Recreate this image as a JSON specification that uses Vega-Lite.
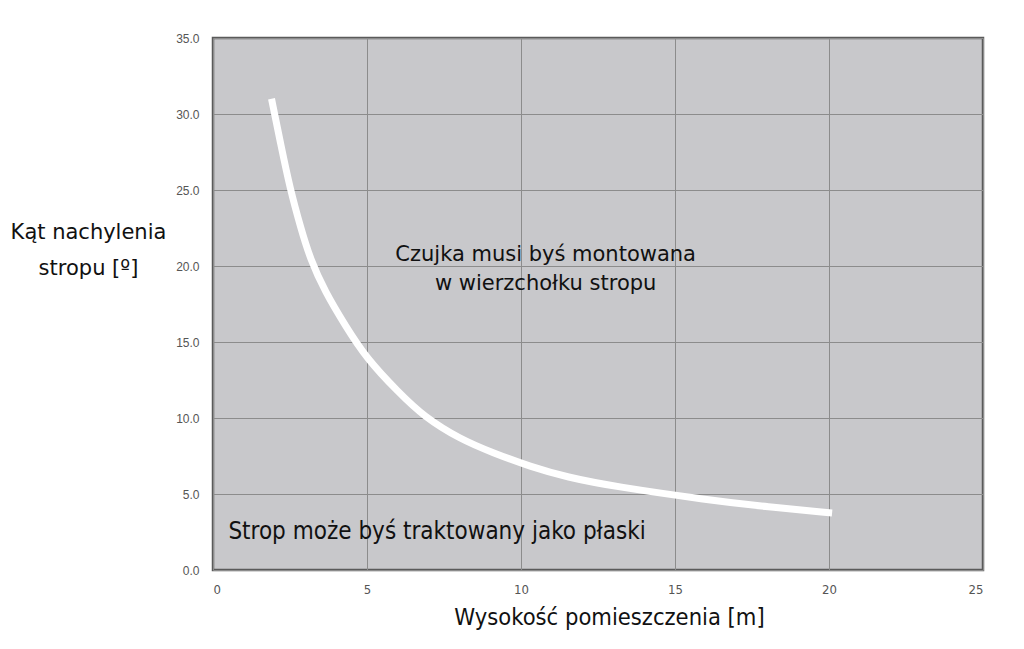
{
  "$schema": "https://vega.github.io/schema/vega-lite/v6.json",
  "width": 770,
  "height": 532,
  "autosize": {"type": "none"},
  "padding": {"left": 213, "top": 38, "right": 41, "bottom": 79},
  "background": "white",
  "datasets": {
    "curve": [
      {"h": 1.9, "angle": 31.0},
      {"h": 2.2, "angle": 28.0},
      {"h": 2.5, "angle": 25.1},
      {"h": 2.85, "angle": 22.5},
      {"h": 3.15, "angle": 20.5},
      {"h": 3.64, "angle": 18.3},
      {"h": 4.29, "angle": 16.1},
      {"h": 4.99, "angle": 13.9},
      {"h": 6.02, "angle": 11.7},
      {"h": 6.84, "angle": 10.1},
      {"h": 8.03, "angle": 8.6},
      {"h": 9.1, "angle": 7.7},
      {"h": 10.3, "angle": 6.8},
      {"h": 11.5, "angle": 6.1},
      {"h": 13.0, "angle": 5.5},
      {"h": 16.1, "angle": 4.6},
      {"h": 18.0, "angle": 4.15},
      {"h": 20.1, "angle": 3.75}
    ],
    "upper": [
      {"h": 10.8, "angle": 20.7, "label": ["Czujka musi byś montowana", "w wierzchołku stropu"]}
    ],
    "lower": [
      {"h": 0.5, "angle": 2.5, "label": "Strop może byś traktowany jako płaski"}
    ]
  },
  "encoding": {
    "x": {
      "field": "h",
      "type": "quantitative",
      "scale": {"domain": [0, 25], "nice": false},
      "axis": {
        "values": [0, 5, 10, 15, 20, 25],
        "title": "Wysokość pomieszczenia [m]",
        "titleFont": "DejaVu Sans Condensed",
        "titleFontSize": 23.5,
        "titleFontWeight": "normal",
        "titleColor": "#111",
        "titleX": 396,
        "titleY": 47,
        "titleBaseline": "middle",
        "titleAlign": "center",
        "labelFont": "DejaVu Sans Condensed",
        "labelFontSize": 13,
        "labelColor": "#555",
        "labelPadding": 13
      }
    },
    "y": {
      "field": "angle",
      "type": "quantitative",
      "scale": {"domain": [0, 35], "nice": false},
      "axis": {
        "values": [0, 5, 10, 15, 20, 25, 30, 35],
        "format": ".1f",
        "title": ["Kąt nachylenia", "stropu [º]"],
        "titleFont": "DejaVu Sans",
        "titleFontSize": 21,
        "titleFontWeight": "normal",
        "titleColor": "#111",
        "titleAngle": 0,
        "titleAlign": "center",
        "titleBaseline": "middle",
        "titleLineHeight": 36,
        "titleX": -125,
        "titleY": 194,
        "labelFont": "Liberation Sans",
        "labelFontSize": 12,
        "labelColor": "#555",
        "labelPadding": 14
      }
    }
  },
  "layer": [
    {
      "data": {"name": "curve"},
      "mark": {"type": "line", "color": "white", "strokeWidth": 7, "interpolate": "basis", "strokeCap": "butt"}
    },
    {
      "data": {"name": "upper"},
      "mark": {"type": "text", "font": "DejaVu Sans", "fontSize": 21, "align": "center", "baseline": "middle", "lineHeight": 29, "color": "#111"},
      "encoding": {"text": {"field": "label"}}
    },
    {
      "data": {"name": "lower"},
      "mark": {"type": "text", "font": "DejaVu Sans Condensed", "fontSize": 24, "align": "left", "baseline": "middle", "color": "#111"},
      "encoding": {"text": {"field": "label"}}
    }
  ],
  "config": {
    "view": {"fill": "#c8c8cb", "stroke": "#5a5a5a", "strokeWidth": 2.5},
    "axis": {
      "grid": true,
      "gridColor": "#8c8c8c",
      "gridWidth": 1,
      "ticks": false,
      "domain": false
    }
  }
}
